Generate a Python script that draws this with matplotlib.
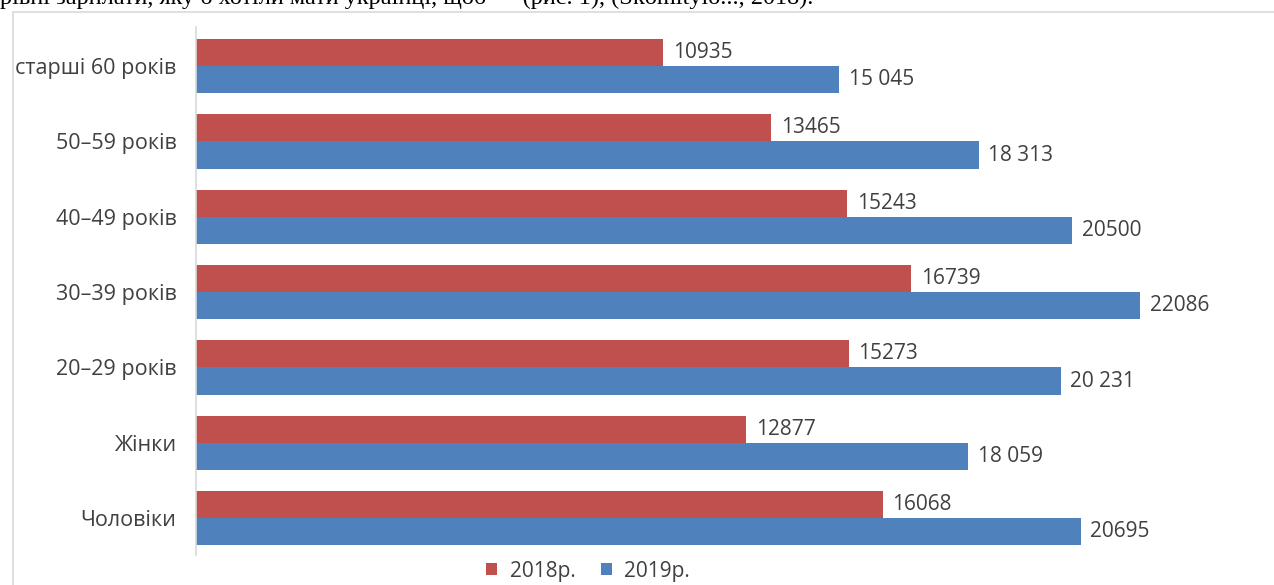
import matplotlib
matplotlib.use("Agg")
import matplotlib.pyplot as plt
from matplotlib.patches import Rectangle
import numpy as np

categories = ["Чоловіки", "Жінки", "20–29 років", "30–39 років", "40–49 років", "50–59 років", "старші 60 років"]
values_2018 = [16068, 12877, 15273, 16739, 15243, 13465, 10935]
values_2019 = [20695, 18059, 20231, 22086, 20500, 18313, 15045]
labels_2018 = ["16068", "12877", "15273", "16739", "15243", "13465", "10935"]
labels_2019 = ["20695", "18 059", "20 231", "22086", "20500", "18 313", "15 045"]
series_names = ["2018р.", "2019р."]

W, H = 1274, 585
fig = plt.figure(figsize=(W / 100, H / 100), dpi=100)
fig.patch.set_facecolor("white")

plt.rcParams['font.family'] = ['Open Sans', 'DejaVu Sans']

# chart border (cut by image edge)
fig.patches.append(Rectangle((13 / W, -0.1), 1.2, 1 - 12 / H + 0.1, transform=fig.transFigure,
                             fill=False, edgecolor="#D9D9D9", linewidth=1.2))

# cut-off text line at top
fig.text(0.0, 1 - 4 / H, "рівні зарплати, яку б хотіли мати українці, щоб — (рис. 1), (Skomitylo..., 2018).",
         family="Liberation Serif", fontsize=17.5, va="baseline", ha="left", color="#000000")

left, right = 196 / W, 1250 / W
bottom, top = 1 - 555 / H, 1 - 27 / H
ax = fig.add_axes([left, bottom, right - left, top - bottom])

scale = 0.04274  # px per unit
ax.set_xlim(0, (1250 - 196) / scale)
ax.set_ylim(-0.49, 6.52)

y = np.arange(len(categories))
h = 0.36
red = "#C0504D"
blue = "#4F81BD"
ax.barh(y + h / 2, values_2018, height=h, color=red, label=series_names[0])
ax.barh(y - h / 2, values_2019, height=h, color=blue, label=series_names[1])

for yi, v, t in zip(y, values_2018, labels_2018):
    ax.annotate(t, (v, yi + h / 2), xytext=(7, 0), textcoords="offset points",
                va="center", ha="left", fontsize=15, color="#404040")
for yi, v, t in zip(y, values_2019, labels_2019):
    ax.annotate(t, (v, yi - h / 2), xytext=(7, 0), textcoords="offset points",
                va="center", ha="left", fontsize=15, color="#404040")

ax.set_yticks(y)
ax.set_yticklabels(categories, fontsize=15.5, color="#404040")
ax.tick_params(axis="y", length=0, pad=14)
ax.set_xticks([])
for s in ["top", "right", "bottom"]:
    ax.spines[s].set_visible(False)
ax.spines["left"].set_color("#D9D9D9")
ax.spines["left"].set_linewidth(1.2)

leg = fig.legend(loc="center", bbox_to_anchor=(588 / W, 1 - 571 / H), ncol=2, frameon=False,
                 fontsize=15, handlelength=0.55, handleheight=0.55, handletextpad=0.6,
                 columnspacing=1.2)
for t in leg.get_texts():
    t.set_color("#404040")

fig.savefig("out.png", dpi=100, facecolor="white")
